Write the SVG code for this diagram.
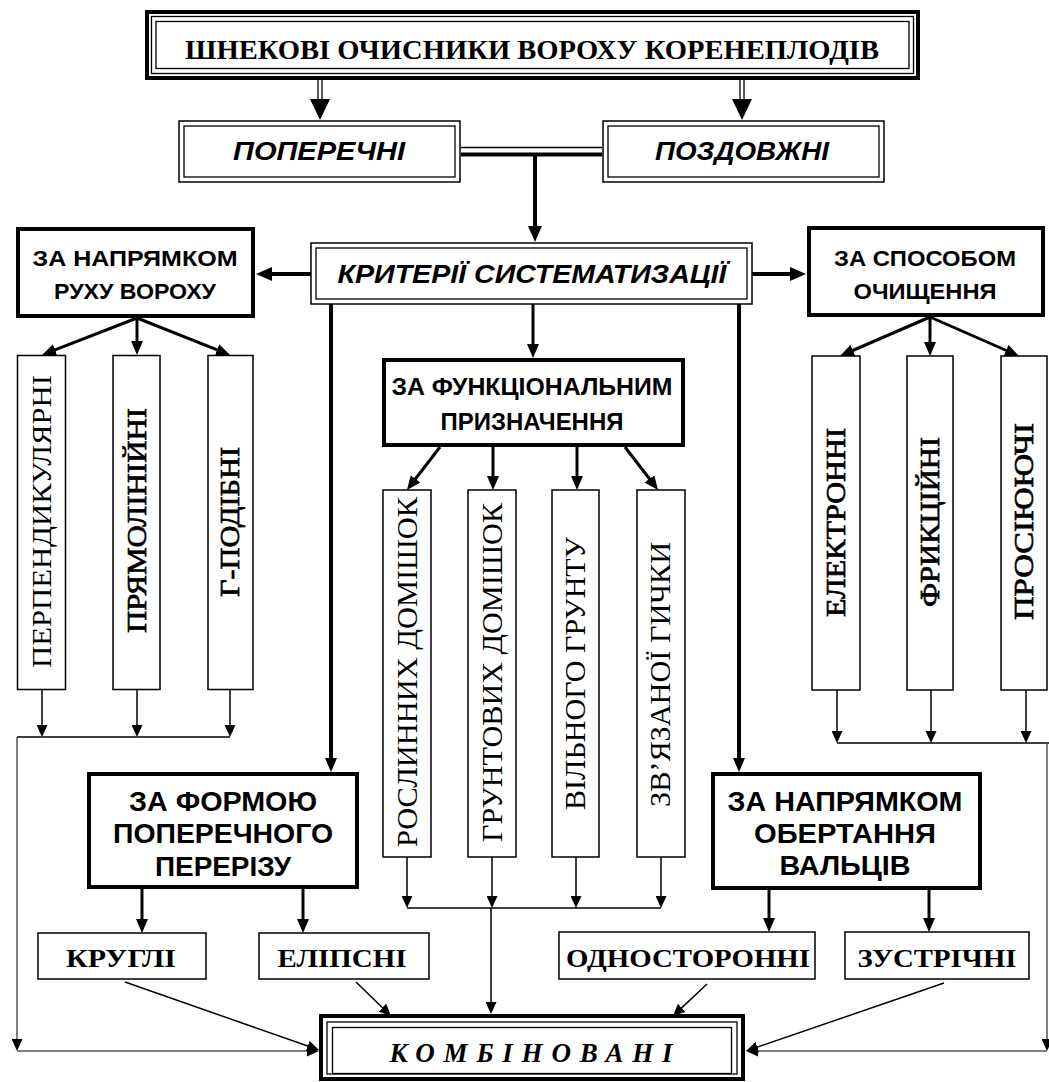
<svg xmlns="http://www.w3.org/2000/svg" width="1049" height="1082" viewBox="0 0 1049 1082">
<defs>
<style>
.bg{fill:#fff}
.tb{fill:#fff;stroke:#000;stroke-width:4}
.nb{fill:#fff;stroke:#000;stroke-width:1.5}
.ln{fill:none;stroke:#000;stroke-width:1.3}
.ct{fill:none;stroke:#000;stroke-width:4}
.cm{fill:none;stroke:#000;stroke-width:3}
.cs{fill:none;stroke:#000;stroke-width:1.5}
.cg{fill:none;stroke:#555;stroke-width:1.5}
.ss{font-family:"Liberation Sans",Arial,sans-serif;font-weight:bold;text-anchor:middle;fill:#000}
.si{font-family:"Liberation Sans",Arial,sans-serif;font-weight:bold;font-style:italic;text-anchor:middle;fill:#000}
.sr{font-family:"Liberation Serif","Times New Roman",serif;text-anchor:middle;fill:#000}
.sm{font-family:"Liberation Serif","Times New Roman",serif;text-anchor:middle;fill:#000;stroke:#000;stroke-width:0.7}
.sb{font-family:"Liberation Serif","Times New Roman",serif;font-weight:bold;text-anchor:middle;fill:#000}
.sbi{font-family:"Liberation Serif","Times New Roman",serif;font-weight:bold;font-style:italic;text-anchor:middle;fill:#000}
</style>
<marker id="aht" viewBox="0 0 16 14" refX="11" refY="7" markerWidth="16" markerHeight="14" markerUnits="userSpaceOnUse" orient="auto"><path d="M0,0 L16,7 L0,14 z" fill="#000"/></marker>
<marker id="ahm" viewBox="0 0 14 12" refX="9" refY="6" markerWidth="14" markerHeight="12" markerUnits="userSpaceOnUse" orient="auto"><path d="M0,0 L14,6 L0,12 z" fill="#000"/></marker>
<marker id="ahs" viewBox="0 0 12 11" refX="7" refY="5.5" markerWidth="12" markerHeight="11" markerUnits="userSpaceOnUse" orient="auto"><path d="M0,0 L12,5.5 L0,11 z" fill="#000"/></marker>
</defs>
<rect class="bg" x="0" y="0" width="1049" height="1082"/>

<g id="connectors">
  <path class="ln" d="M318,80 V101 M322,80 V101"/>
  <polygon points="310,99 330,99 320,120" fill="#000"/>
  <path class="ln" d="M740,80 V101 M744,80 V101"/>
  <polygon points="732,99 752,99 742,120" fill="#000"/>
  <path class="cs" d="M461,147.5 H602"/>
  <path class="ct" d="M461,154.5 H602"/>
  <path class="ct" d="M535,156 V237" marker-end="url(#aht)"/>
  <path class="ct" d="M311,274 H261" marker-end="url(#aht)"/>
  <path class="ct" d="M752,274 H801" marker-end="url(#aht)"/>
  <path class="cm" d="M533,304 V353" marker-end="url(#ahm)"/>
  <path class="ct" d="M331,304 V767" marker-end="url(#ahm)"/>
  <path class="ct" d="M739,304 V767" marker-end="url(#ahm)"/>
  <path class="cm" d="M137,318 L46.7,353.2" marker-end="url(#ahm)"/>
  <path class="cm" d="M137,318 V350" marker-end="url(#ahm)"/>
  <path class="cm" d="M137,318 L225.4,353.2" marker-end="url(#ahm)"/>
  <path class="cm" d="M930,317 L844.6,354" marker-end="url(#ahm)"/>
  <path class="cm" d="M930,317 V351" marker-end="url(#ahm)"/>
  <path class="cm" d="M930,317 L1014.4,354" marker-end="url(#ahm)"/>
  <path class="cm" d="M440,447 L410,486" marker-end="url(#ahm)"/>
  <path class="cm" d="M493,447 V485" marker-end="url(#ahm)"/>
  <path class="cm" d="M577,447 V485" marker-end="url(#ahm)"/>
  <path class="cm" d="M625,447 L655,486" marker-end="url(#ahm)"/>
  <path class="cs" d="M42,690 V732" marker-end="url(#ahs)"/>
  <path class="cs" d="M137,690 V732" marker-end="url(#ahs)"/>
  <path class="cs" d="M230,690 V732" marker-end="url(#ahs)"/>
  <path class="cs" d="M17,737 H230"/>
  <path class="cg" d="M17,737 V1046" marker-end="url(#ahs)"/>
  <path class="cg" d="M17,1051 H314" marker-end="url(#ahs)"/>
  <path class="cs" d="M407,857 V903" marker-end="url(#ahs)"/>
  <path class="cs" d="M492,857 V903" marker-end="url(#ahs)"/>
  <path class="cs" d="M576,857 V903" marker-end="url(#ahs)"/>
  <path class="cs" d="M661,857 V903" marker-end="url(#ahs)"/>
  <path class="cs" d="M407,908 H661"/>
  <path class="cs" d="M491,908 V1009" marker-end="url(#ahs)"/>
  <path class="cs" d="M837,690 V738" marker-end="url(#ahs)"/>
  <path class="cs" d="M931,690 V738" marker-end="url(#ahs)"/>
  <path class="cs" d="M1026,690 V738" marker-end="url(#ahs)"/>
  <path class="cs" d="M837,743 H1049"/>
  <path class="cg" d="M1047,743 V1046" marker-end="url(#ahs)"/>
  <path class="cg" d="M1047,1051 H751" marker-end="url(#ahs)"/>
  <path class="cm" d="M142,889 V928" marker-end="url(#ahm)"/>
  <path class="cm" d="M303,889 V928" marker-end="url(#ahm)"/>
  <path class="cm" d="M769,890 V927" marker-end="url(#ahm)"/>
  <path class="cm" d="M929,890 V927" marker-end="url(#ahm)"/>
  <path class="cs" d="M125,982 L314.3,1048.3" marker-end="url(#ahs)"/>
  <path class="cs" d="M356,982 L387.4,1012.5" marker-end="url(#ahs)"/>
  <path class="cs" d="M707,984 L676.6,1012.6" marker-end="url(#ahs)"/>
  <path class="cs" d="M944,983 L750.7,1049.4" marker-end="url(#ahs)"/>
</g>

<g id="n-top">
  <rect x="147" y="12" width="771" height="66" fill="#fff" stroke="#000" stroke-width="4"/>
  <rect x="151.5" y="16.5" width="762" height="57" class="ln"/>
  <rect x="156" y="21.5" width="753" height="47" class="ln"/>
  <text class="sb" x="532" y="59" font-size="28" textLength="694" lengthAdjust="spacingAndGlyphs">ШНЕКОВІ ОЧИСНИКИ ВОРОХУ КОРЕНЕПЛОДІВ</text>
</g>

<g id="n-poperechni">
  <rect x="179" y="121" width="281" height="61" class="nb"/>
  <rect x="184" y="126" width="271" height="51" class="ln"/>
  <text class="si" x="319" y="160" font-size="25" textLength="172" lengthAdjust="spacingAndGlyphs">ПОПЕРЕЧНІ</text>
</g>

<g id="n-pozdovzhni">
  <rect x="603" y="121" width="281" height="61" class="nb"/>
  <rect x="608" y="126" width="271" height="51" class="ln"/>
  <text class="si" x="742" y="160" font-size="25" textLength="174" lengthAdjust="spacingAndGlyphs">ПОЗДОВЖНІ</text>
</g>

<g id="n-kryterii">
  <rect x="311" y="243" width="441" height="61" class="nb"/>
  <rect x="316" y="248" width="431" height="51" class="ln"/>
  <text class="si" x="532" y="283" font-size="26" textLength="389" lengthAdjust="spacingAndGlyphs">КРИТЕРІЇ СИСТЕМАТИЗАЦІЇ</text>
</g>

<g id="n-rukh">
  <rect x="18" y="229" width="235" height="87" class="tb"/>
  <text class="ss" x="135" y="266" font-size="22" textLength="205" lengthAdjust="spacingAndGlyphs">ЗА НАПРЯМКОМ</text>
  <text class="ss" x="135" y="299" font-size="22" textLength="162" lengthAdjust="spacingAndGlyphs">РУХУ ВОРОХУ</text>
</g>

<g id="n-sposib">
  <rect x="809" y="228" width="234" height="87" class="tb"/>
  <text class="ss" x="925" y="266" font-size="22" textLength="182" lengthAdjust="spacingAndGlyphs">ЗА СПОСОБОМ</text>
  <text class="ss" x="925" y="299" font-size="22" textLength="143" lengthAdjust="spacingAndGlyphs">ОЧИЩЕННЯ</text>
</g>

<g id="n-funktsionalnym">
  <rect x="384" y="360" width="299" height="85" class="tb"/>
  <text class="ss" x="532" y="395" font-size="23" textLength="281" lengthAdjust="spacingAndGlyphs">ЗА ФУНКЦІОНАЛЬНИМ</text>
  <text class="ss" x="532" y="430" font-size="23" textLength="183" lengthAdjust="spacingAndGlyphs">ПРИЗНАЧЕННЯ</text>
</g>

<g id="n-perpendykuliarni">
  <rect x="17.5" y="355.5" width="48" height="334" class="nb"/>
  <text class="sr" transform="translate(51,521.5) rotate(-90)" font-size="28" textLength="293" lengthAdjust="spacingAndGlyphs">ПЕРПЕНДИКУЛЯРНІ</text>
</g>
<g id="n-priamoliniini">
  <rect x="113" y="355.5" width="47" height="334" class="nb"/>
  <text class="sm" transform="translate(146,520.5) rotate(-90)" font-size="28" textLength="225" lengthAdjust="spacingAndGlyphs">ПРЯМОЛІНІЙНІ</text>
</g>
<g id="n-hpodibni">
  <rect x="208" y="355.5" width="45" height="334" class="nb"/>
  <text class="sm" transform="translate(239,522) rotate(-90)" font-size="28" textLength="150" lengthAdjust="spacingAndGlyphs">Г-ПОДІБНІ</text>
</g>

<g id="n-roslynnykh">
  <rect x="383" y="490" width="48" height="367" class="nb"/>
  <text class="sr" transform="translate(417,672) rotate(-90)" font-size="30" textLength="350" lengthAdjust="spacingAndGlyphs">РОСЛИННИХ ДОМІШОК</text>
</g>
<g id="n-gruntovykh">
  <rect x="468" y="490" width="48" height="367" class="nb"/>
  <text class="sr" transform="translate(502,672.5) rotate(-90)" font-size="30" textLength="339" lengthAdjust="spacingAndGlyphs">ГРУНТОВИХ ДОМІШОК</text>
</g>
<g id="n-vilnoho">
  <rect x="552" y="490" width="47" height="367" class="nb"/>
  <text class="sr" transform="translate(585,673.5) rotate(-90)" font-size="30" textLength="273" lengthAdjust="spacingAndGlyphs">ВІЛЬНОГО ГРУНТУ</text>
</g>
<g id="n-zviazanoi">
  <rect x="637" y="490" width="48" height="367" class="nb"/>
  <text class="sr" transform="translate(670,674.5) rotate(-90)" font-size="30" textLength="265" lengthAdjust="spacingAndGlyphs">ЗВ’ЯЗАНОЇ ГИЧКИ</text>
</g>

<g id="n-elektronni">
  <rect x="812" y="356" width="48" height="334" class="nb"/>
  <text class="sm" transform="translate(845,522.5) rotate(-90)" font-size="28" textLength="189" lengthAdjust="spacingAndGlyphs">ЕЛЕКТРОННІ</text>
</g>
<g id="n-fryktsiini">
  <rect x="907" y="356" width="46" height="334" class="nb"/>
  <text class="sm" transform="translate(939,522) rotate(-90)" font-size="28" textLength="170" lengthAdjust="spacingAndGlyphs">ФРИКЦІЙНІ</text>
</g>
<g id="n-prosiiuiuchi">
  <rect x="1001" y="356" width="46" height="334" class="nb"/>
  <text class="sm" transform="translate(1033,521.5) rotate(-90)" font-size="28" textLength="197" lengthAdjust="spacingAndGlyphs">ПРОСІЮЮЧІ</text>
</g>

<g id="n-forma">
  <rect x="89" y="774" width="268" height="113" class="tb"/>
  <text class="ss" x="223" y="811" font-size="27" textLength="188" lengthAdjust="spacingAndGlyphs">ЗА ФОРМОЮ</text>
  <text class="ss" x="223" y="843" font-size="27" textLength="220" lengthAdjust="spacingAndGlyphs">ПОПЕРЕЧНОГО</text>
  <text class="ss" x="223" y="876" font-size="27" textLength="136" lengthAdjust="spacingAndGlyphs">ПЕРЕРІЗУ</text>
</g>

<g id="n-obertannia">
  <rect x="713" y="774" width="267" height="114" class="tb"/>
  <text class="ss" x="845" y="811" font-size="27" textLength="235" lengthAdjust="spacingAndGlyphs">ЗА НАПРЯМКОМ</text>
  <text class="ss" x="845" y="843" font-size="27" textLength="182" lengthAdjust="spacingAndGlyphs">ОБЕРТАННЯ</text>
  <text class="ss" x="845" y="875" font-size="27" textLength="131" lengthAdjust="spacingAndGlyphs">ВАЛЬЦІВ</text>
</g>

<g id="n-kruhli">
  <rect x="38" y="933" width="168" height="46" class="nb"/>
  <text class="sb" x="121" y="967" font-size="25" textLength="110" lengthAdjust="spacingAndGlyphs">КРУГЛІ</text>
</g>
<g id="n-elipsni">
  <rect x="259" y="933" width="170" height="46" class="nb"/>
  <text class="sb" x="342" y="967" font-size="25" textLength="129" lengthAdjust="spacingAndGlyphs">ЕЛІПСНІ</text>
</g>
<g id="n-odnostoronni">
  <rect x="559" y="932" width="256" height="47" class="nb"/>
  <text class="sb" x="688" y="967" font-size="25" textLength="244" lengthAdjust="spacingAndGlyphs">ОДНОСТОРОННІ</text>
</g>
<g id="n-zustrichni">
  <rect x="845" y="932" width="184" height="47" class="nb"/>
  <text class="sb" x="937" y="967" font-size="25" textLength="159" lengthAdjust="spacingAndGlyphs">ЗУСТРІЧНІ</text>
</g>

<g id="n-kombinovani">
  <rect x="321" y="1016" width="422" height="63" fill="#fff" stroke="#000" stroke-width="4"/>
  <rect x="327" y="1022" width="410" height="52" class="ln"/>
  <rect x="332.5" y="1027.5" width="399" height="46" class="ln"/>
  <text class="sbi" x="531" y="1062" font-size="27" textLength="283" lengthAdjust="spacing">КОМБІНОВАНІ</text>
</g>
</svg>
